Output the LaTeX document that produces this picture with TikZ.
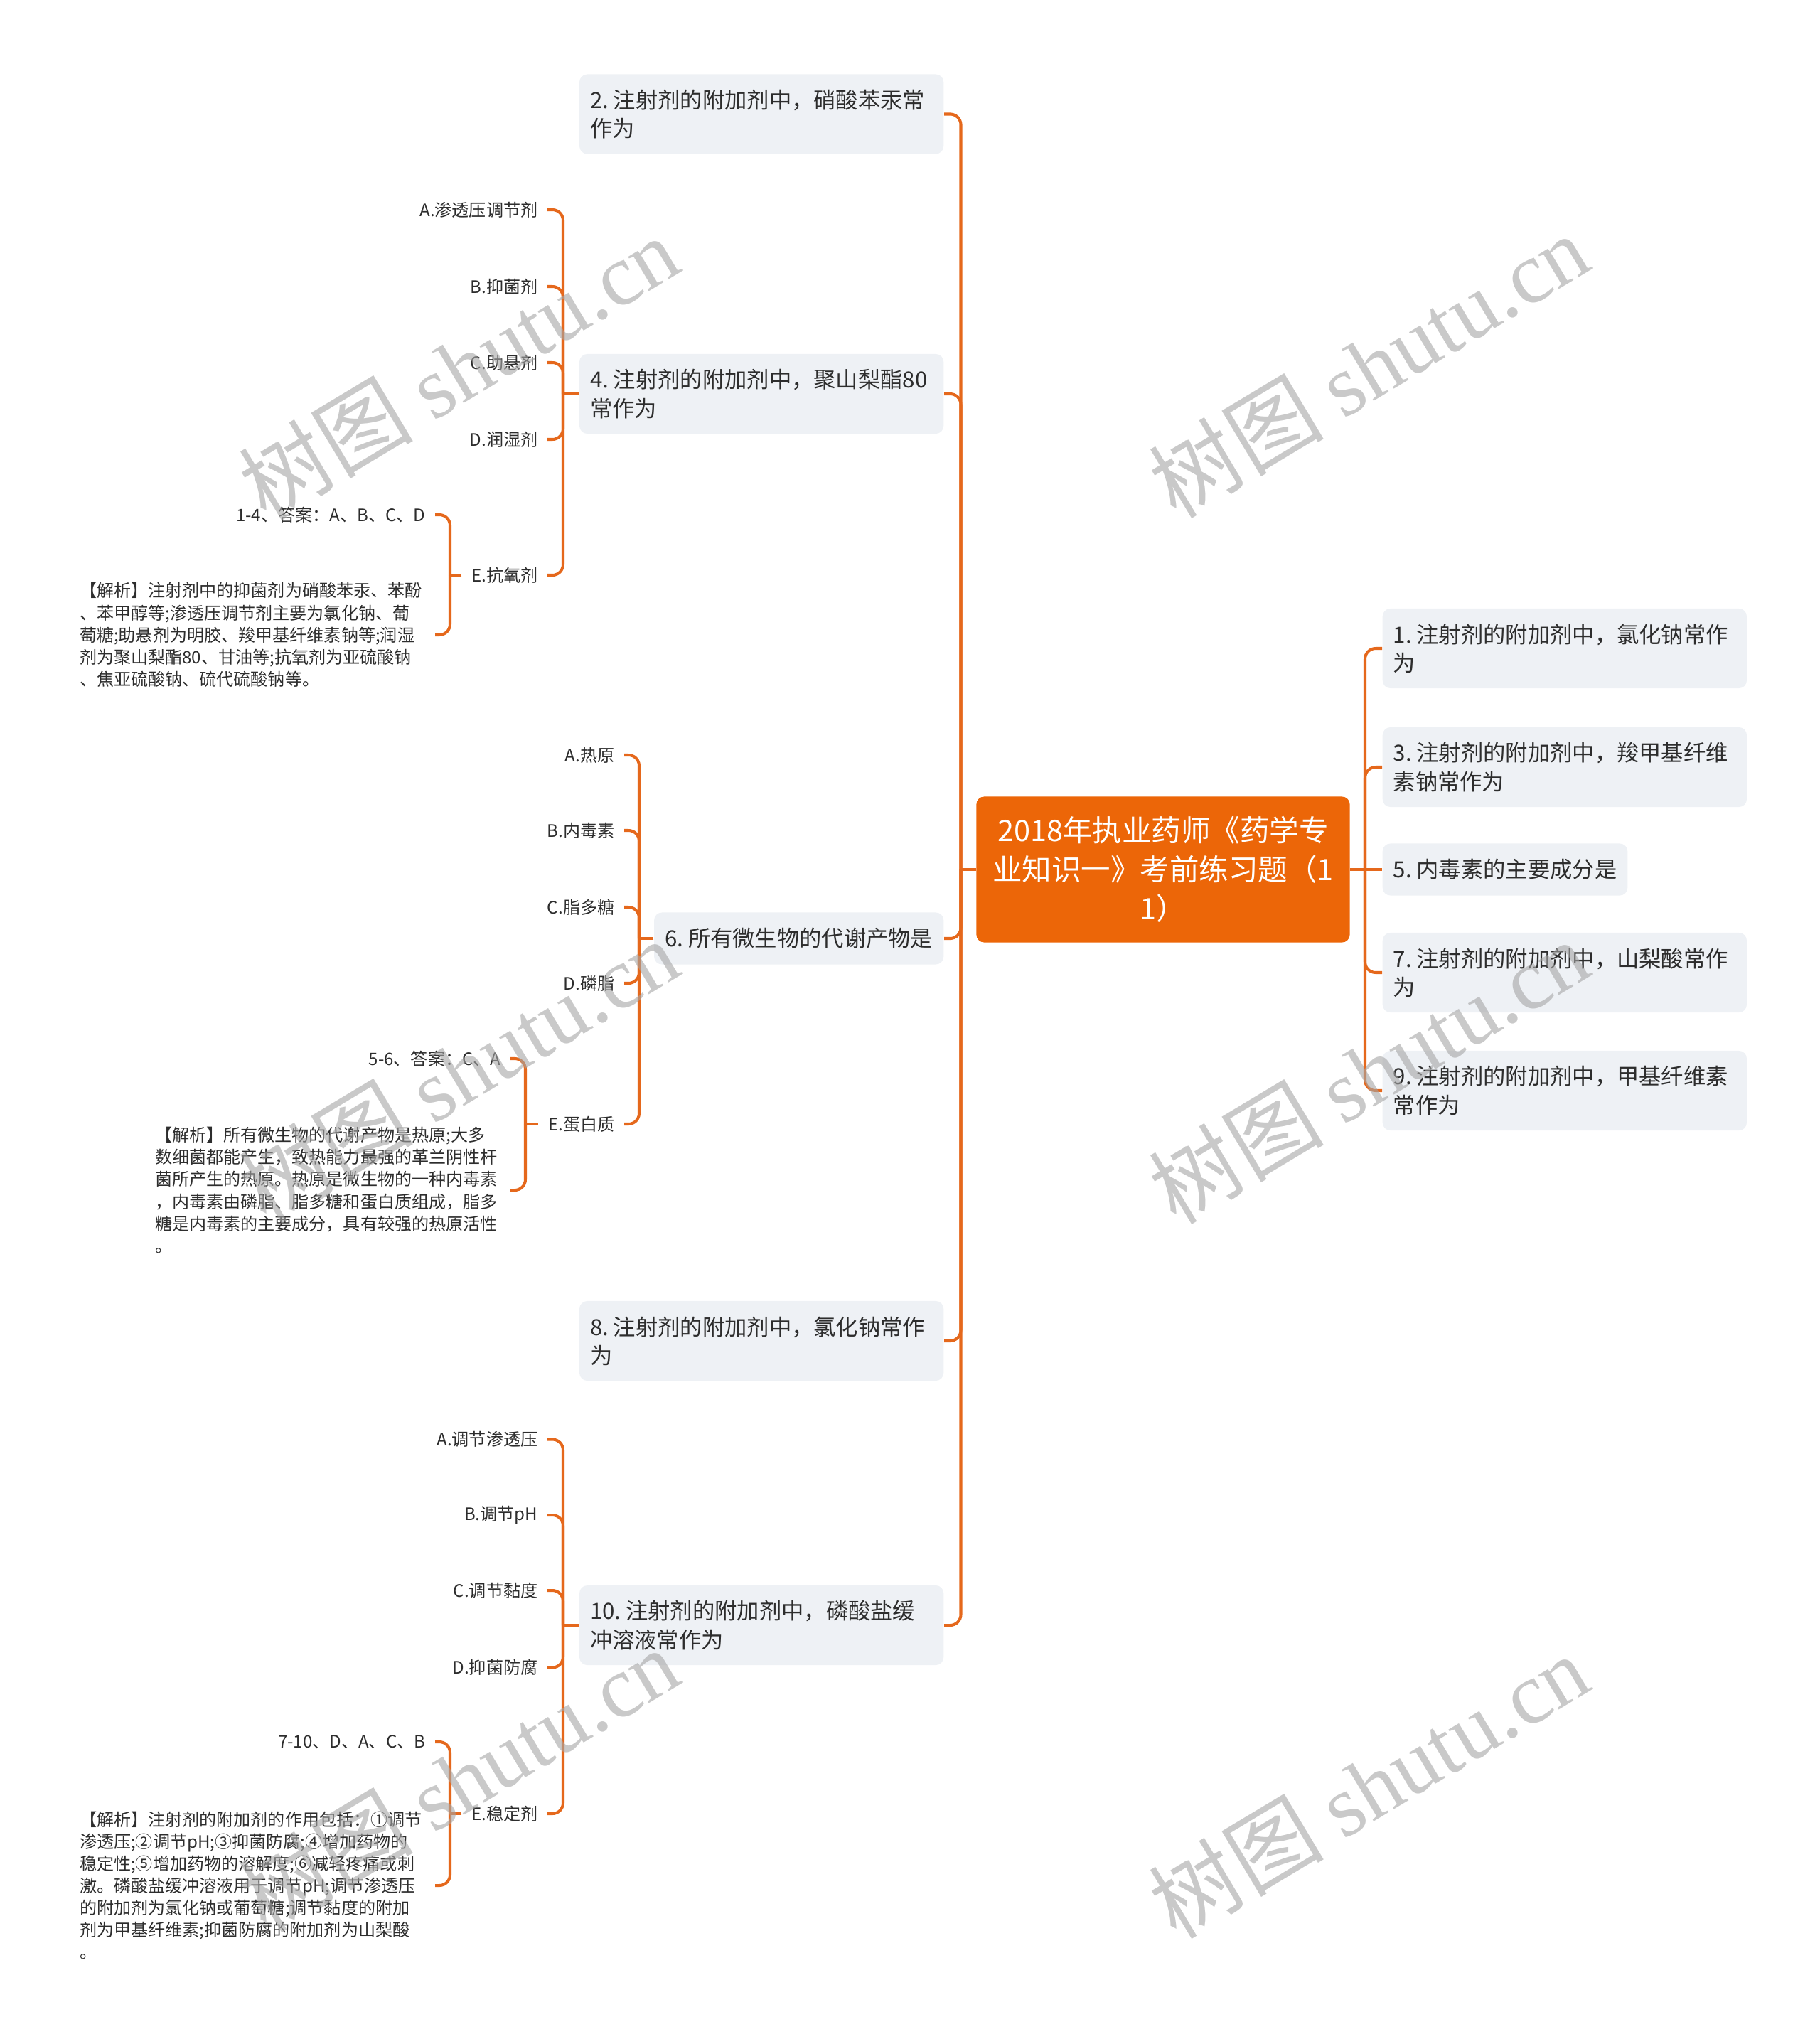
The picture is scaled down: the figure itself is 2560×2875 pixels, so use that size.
\documentclass[tikz,border=0pt]{standalone}
\usepackage{fontspec}
\setmainfont{Noto Sans CJK SC}
\newfontfamily\wmfont{Liberation Serif}

\definecolor{rootorange}{RGB}{236,102,8}
\definecolor{linkorange}{RGB}{229,104,28}
\definecolor{boxgray}{RGB}{238,241,245}
\definecolor{inkgray}{RGB}{45,45,45}
\definecolor{wmgray}{RGB}{165,165,165}

\newcommand{\rootfont}{\fontsize{11.8pt}{15.6pt}\selectfont}
\newcommand{\subfont}{\fontsize{8.9pt}{11.4pt}\selectfont}
\newcommand{\leaffont}{\fontsize{6.85pt}{8.85pt}\selectfont}
\newcommand{\qsp}{\kern0.22em}

\tikzset{
  rootbox/.style={fill=rootorange, text=white, rounded corners=0.11cm, font=\rootfont,
    align=center, text width=5.0cm, minimum width=5.25cm, minimum height=2.05cm, inner xsep=0.12cm},
  subbox/.style={fill=boxgray, text=inkgray, rounded corners=0.11cm, font=\subfont,
    align=left, text width=4.82cm, minimum height=1.12cm, inner xsep=0.15cm},
  shortbox/.style={fill=boxgray, text=inkgray, rounded corners=0.11cm, font=\subfont,
    minimum height=0.73cm, inner xsep=0.15cm},
  leaf/.style={text=inkgray, font=\leaffont, inner xsep=0.13cm, inner ysep=0.02cm},
  notebox/.style={leaf, text width=4.86cm, align=left},
  link/.style={draw=linkorange, line width=1.15pt, rounded corners=0.15cm},
  wmark/.style={text=wmgray, text opacity=0.6, rotate=31, font=\fontsize{35pt}{40pt}\selectfont}
}

\begin{document}
\begin{tikzpicture}[x=0.01cm, y=-0.01cm]
    \useasboundingbox (0,0) rectangle (2560,2875);

    \node[rootbox] (Root) at (1636,1223) {2018年执业药师《药学专\\业知识一》考前练习题（1\\1）};
    \coordinate (RootL) at (1351.5,1223);
    \coordinate (RootR) at (1920,1223);

    \node[subbox, anchor=east] (Q2) at (1328,160.5) {2.\qsp 注射剂的附加剂中，硝酸苯汞常\\作为};
    \node[subbox, anchor=east] (Q4) at (1328,554) {4.\qsp 注射剂的附加剂中，聚山梨酯80\\常作为};
    \node[shortbox, anchor=east] (Q6) at (1328,1320) {6.\qsp 所有微生物的代谢产物是};
    \node[subbox, anchor=east] (Q8) at (1328,1886) {8.\qsp 注射剂的附加剂中，氯化钠常作\\为};
    \node[subbox, anchor=east] (Q10) at (1328,2286) {10.\qsp 注射剂的附加剂中，磷酸盐缓\\冲溶液常作为};

    \node[subbox, anchor=west] (Q1) at (1944,912) {1.\qsp 注射剂的附加剂中，氯化钠常作\\为};
    \node[subbox, anchor=west] (Q3) at (1944,1079) {3.\qsp 注射剂的附加剂中，羧甲基纤维\\素钠常作为};
    \node[shortbox, anchor=west] (Q5) at (1944,1223) {5.\qsp 内毒素的主要成分是};
    \node[subbox, anchor=west] (Q7) at (1944,1368) {7.\qsp 注射剂的附加剂中，山梨酸常作\\为};
    \node[subbox, anchor=west] (Q9) at (1944,1534) {9.\qsp 注射剂的附加剂中，甲基纤维素\\常作为};

    \node[leaf, anchor=east] (Q4a) at (770,295) {A.渗透压调节剂};
    \node[leaf, anchor=east] (Q4b) at (770,403) {B.抑菌剂};
    \node[leaf, anchor=east] (Q4c) at (770,510) {C.助悬剂};
    \node[leaf, anchor=east] (Q4d) at (770,618) {D.润湿剂};
    \node[leaf, anchor=east] (Q4e) at (770,809) {E.抗氧剂};
    \coordinate (Q4L) at (792,554);
    \node[leaf, anchor=east] (Q4key) at (612,724) {1-4、答案：A、B、C、D};
    \node[notebox, anchor=east] (Q4note) at (612,893) {【解析】注射剂中的抑菌剂为硝酸苯汞、苯酚\\、苯甲醇等;渗透压调节剂主要为氯化钠、葡\\萄糖;助悬剂为明胶、羧甲基纤维素钠等;润湿\\剂为聚山梨酯80、甘油等;抗氧剂为亚硫酸钠\\、焦亚硫酸钠、硫代硫酸钠等。};
    \coordinate (Q4eL) at (633,809);

    \node[leaf, anchor=east] (Q6a) at (878,1062) {A.热原};
    \node[leaf, anchor=east] (Q6b) at (878,1168) {B.内毒素};
    \node[leaf, anchor=east] (Q6c) at (878,1276) {C.脂多糖};
    \node[leaf, anchor=east] (Q6d) at (878,1383) {D.磷脂};
    \node[leaf, anchor=east] (Q6e) at (878,1581) {E.蛋白质};
    \coordinate (Q6L) at (899,1320);
    \node[leaf, anchor=east] (Q6key) at (718,1489) {5-6、答案：C、A};
    \node[notebox, anchor=east] (Q6note) at (718,1674) {【解析】所有微生物的代谢产物是热原;大多\\数细菌都能产生，致热能力最强的革兰阴性杆\\菌所产生的热原。热原是微生物的一种内毒素\\，内毒素由磷脂、脂多糖和蛋白质组成，脂多\\糖是内毒素的主要成分，具有较强的热原活性\\。};
    \coordinate (Q6eL) at (739,1581);

    \node[leaf, anchor=east] (Q10a) at (770,2024.5) {A.调节渗透压};
    \node[leaf, anchor=east] (Q10b) at (770,2131) {B.调节pH};
    \node[leaf, anchor=east] (Q10c) at (770,2237) {C.调节黏度};
    \node[leaf, anchor=east] (Q10d) at (770,2345.5) {D.抑菌防腐};
    \node[leaf, anchor=east] (Q10e) at (770,2551) {E.稳定剂};
    \coordinate (Q10L) at (792,2286);
    \node[leaf, anchor=east] (Q10key) at (612,2450) {7-10、D、A、C、B};
    \node[notebox, anchor=east] (Q10note) at (612,2652) {【解析】注射剂的附加剂的作用包括：①调节\\渗透压;②调节pH;③抑菌防腐;④增加药物的\\稳定性;⑤增加药物的溶解度;⑥减轻疼痛或刺\\激。磷酸盐缓冲溶液用于调节pH;调节渗透压\\的附加剂为氯化钠或葡萄糖;调节黏度的附加\\剂为甲基纤维素;抑菌防腐的附加剂为山梨酸\\。};
    \coordinate (Q10eL) at (633,2551);

    \draw[link] (Root.west)--(RootL);
    \draw[link] (Root.east)--(RootR);
    \draw[link] (RootL) |- (Q2.east);
    \draw[link] (RootL) |- (Q4.east);
    \draw[link] (RootL) |- (Q6.east);
    \draw[link] (RootL) |- (Q8.east);
    \draw[link] (RootL) |- (Q10.east);
    \draw[link] (RootR) |- (Q1.west);
    \draw[link] (RootR) |- (Q3.west);
    \draw[link] (RootR)--(Q5.west);
    \draw[link] (RootR) |- (Q7.west);
    \draw[link] (RootR) |- (Q9.west);

    \draw[link] (Q4.west)--(Q4L);
    \draw[link] (Q4L) |- (Q4a.east);
    \draw[link] (Q4L) |- (Q4b.east);
    \draw[link] (Q4L) |- (Q4c.east);
    \draw[link] (Q4L) |- (Q4d.east);
    \draw[link] (Q4L) |- (Q4e.east);
    \draw[link] (Q4e.west)--(Q4eL);
    \draw[link] (Q4eL) |- (Q4key.east);
    \draw[link] (Q4eL) |- (Q4note.east);

    \draw[link] (Q6.west)--(Q6L);
    \draw[link] (Q6L) |- (Q6a.east);
    \draw[link] (Q6L) |- (Q6b.east);
    \draw[link] (Q6L) |- (Q6c.east);
    \draw[link] (Q6L) |- (Q6d.east);
    \draw[link] (Q6L) |- (Q6e.east);
    \draw[link] (Q6e.west)--(Q6eL);
    \draw[link] (Q6eL) |- (Q6key.east);
    \draw[link] (Q6eL) |- (Q6note.east);

    \draw[link] (Q10.west)--(Q10L);
    \draw[link] (Q10L) |- (Q10a.east);
    \draw[link] (Q10L) |- (Q10b.east);
    \draw[link] (Q10L) |- (Q10c.east);
    \draw[link] (Q10L) |- (Q10d.east);
    \draw[link] (Q10L) |- (Q10e.east);
    \draw[link] (Q10e.west)--(Q10eL);
    \draw[link] (Q10eL) |- (Q10key.east);
    \draw[link] (Q10eL) |- (Q10note.east);

    \node[wmark] (WM1) at (645,517) {树图 {\wmfont shutu.cn}};
    \node[wmark] (WM2) at (1925,514) {树图 {\wmfont shutu.cn}};
    \node[wmark] (WM3) at (645,1506) {树图 {\wmfont shutu.cn}};
    \node[wmark] (WM4) at (1925,1507) {树图 {\wmfont shutu.cn}};
    \node[wmark] (WM5) at (645,2503) {树图 {\wmfont shutu.cn}};
    \node[wmark] (WM6) at (1925,2512) {树图 {\wmfont shutu.cn}};
\end{tikzpicture}
\end{document}
